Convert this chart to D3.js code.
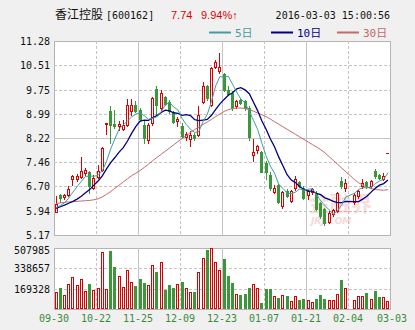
<!DOCTYPE html>
<html>
<head>
<meta charset="utf-8">
<script src="https://cdn.jsdelivr.net/npm/d3@7"></script>
<style>
html,body{margin:0;padding:0;background:#f0f0f0;}
svg{display:block;}
</style>
</head>
<body>
<svg id="chart" width="415" height="330"></svg>
<script>
// Daily K-line for 香江控股 600162 (index 70 is a suspended day: no trade)
const open = [5.90,6.43,6.37,6.42,6.92,6.94,6.99,7.13,7.15,6.65,7.00,7.23,8.66,9.08,8.67,8.59,8.51,8.64,9.06,9.27,
  9.10,8.64,8.17,8.70,9.76,9.17,9.51,9.35,9.03,8.75,8.61,8.26,8.19,8.33,8.33,9.35,9.85,9.27,10.47,10.35,
  10.25,9.74,9.64,9.24,9.43,9.38,9.17,7.70,7.84,7.77,7.44,7.07,6.52,6.75,6.08,6.55,6.24,6.65,6.83,6.65,
  6.42,6.52,6.50,6.19,5.98,5.58,5.82,5.92,6.86,6.66,null,6.20,6.39,6.71,6.83,6.71,7.18,7.07,6.92,7.74];
const high = [6.41,6.45,6.47,6.71,7.07,7.09,7.63,7.28,7.17,7.05,7.36,7.93,8.71,9.22,9.11,8.75,8.80,9.46,9.45,9.38,
  9.16,8.80,8.70,9.53,9.87,9.74,9.55,9.43,9.06,8.90,8.70,8.40,8.43,8.38,9.22,10.00,9.90,10.47,10.69,10.91,
  10.28,9.85,9.69,9.43,9.45,9.43,9.22,8.19,8.01,7.80,7.49,7.15,6.76,6.78,6.55,6.62,6.60,7.02,6.88,6.70,
  6.60,6.66,6.55,6.22,6.03,5.92,6.00,6.52,6.99,6.92,null,6.50,6.60,6.92,6.86,6.90,7.24,7.10,7.12,7.74];
const low = [5.88,6.21,6.30,6.40,6.76,6.87,6.96,7.07,6.48,6.63,6.97,7.18,8.36,8.07,8.54,8.49,8.47,8.59,8.96,9.03,
  8.76,8.07,8.07,8.64,8.96,9.12,9.27,9.01,8.70,8.59,8.23,8.17,7.98,8.17,8.30,9.32,9.42,9.22,10.42,10.27,
  9.70,9.58,9.12,9.17,9.30,9.12,8.17,7.49,7.75,7.16,6.92,6.60,6.50,6.19,6.03,6.37,6.20,6.60,6.68,6.30,
  6.30,6.45,5.95,5.70,5.50,5.55,5.78,5.88,6.66,6.55,null,6.16,6.35,6.66,6.66,6.66,6.97,6.92,6.90,7.74];
const close = [6.16,6.34,6.43,6.63,7.02,7.02,7.18,7.21,6.71,6.97,7.18,7.90,8.69,8.64,8.61,8.66,8.62,9.27,9.27,9.09,
  8.82,8.22,8.64,9.48,9.27,9.64,9.30,9.06,8.72,8.82,8.28,8.35,8.33,8.22,8.96,9.85,9.47,10.42,10.63,10.45,
  9.75,9.62,9.17,9.38,9.32,9.17,8.25,7.77,7.96,7.16,7.15,6.66,6.66,6.22,6.52,6.39,6.55,6.92,6.71,6.34,
  6.55,6.62,5.98,5.77,5.56,5.87,5.96,6.50,6.71,6.81,null,6.44,6.55,6.81,6.71,6.86,7.02,6.97,7.04,7.74];
const volume = [140000,178000,118000,207000,266000,198000,249000,150000,208000,160000,
  173000,475000,165000,480000,350000,274000,183000,326000,224000,193000,
  252000,218000,200000,367000,311000,392000,161000,201000,176000,207000,
  226000,175000,141000,141000,308000,427000,495000,507985,391000,327000,
  420000,271000,217000,125000,119000,125000,178000,208000,175000,49000,
  164000,164000,107000,90000,116000,109000,70000,106000,78000,84000,
  75000,60000,84000,117000,84000,75000,75000,126000,243000,176000,
  null,75000,109000,109000,134000,84000,151000,100000,100000,67000];

// Moving averages as plotted
const ma5 = [6.03,6.10,6.18,6.33,6.52,6.69,6.86,7.01,7.03,7.02,7.05,7.19,7.49,7.88,8.20,8.50,8.64,8.76,8.89,8.98,
  9.01,8.93,8.81,8.85,8.89,9.05,9.27,9.35,9.20,9.11,8.84,8.65,8.50,8.40,8.43,8.74,8.97,9.38,9.87,10.16,
  10.14,10.17,9.92,9.67,9.45,9.33,9.06,8.78,8.49,8.06,7.66,7.34,7.12,6.77,6.64,6.49,6.47,6.52,6.62,6.58,
  6.61,6.63,6.44,6.25,6.10,5.96,5.83,5.93,6.12,6.37,null,6.48,6.60,6.66,6.66,6.67,6.79,6.87,6.92,7.13];
const ma10 = [6.01,6.06,6.11,6.17,6.23,6.30,6.39,6.50,6.60,6.74,6.87,7.03,7.25,7.45,7.61,7.78,7.92,8.13,8.38,8.59,
  8.76,8.79,8.78,8.87,8.93,9.03,9.10,9.08,9.02,9.00,8.94,8.96,8.93,8.80,8.77,8.79,8.81,8.94,9.13,9.30,
  9.44,9.57,9.65,9.77,9.81,9.74,9.62,9.35,9.08,8.76,8.50,8.20,7.95,7.63,7.35,7.07,6.90,6.82,6.69,6.61,
  6.55,6.55,6.48,6.44,6.34,6.29,6.23,6.19,6.19,6.23,null,6.22,6.22,6.30,6.39,6.52,6.64,6.74,6.79,6.90];
const ma30 = [6.16,6.18,6.20,6.21,6.22,6.23,6.24,6.25,6.26,6.28,6.31,6.37,6.45,6.54,6.64,6.74,6.84,6.94,7.04,7.12,
  7.20,7.30,7.40,7.51,7.61,7.71,7.81,7.91,8.01,8.11,8.21,8.30,8.40,8.49,8.57,8.65,8.73,8.81,8.90,8.98,
  9.06,9.12,9.15,9.17,9.17,9.15,9.12,9.07,9.01,8.96,8.90,8.82,8.74,8.66,8.58,8.50,8.42,8.34,8.26,8.18,
  8.10,8.02,7.94,7.86,7.76,7.64,7.52,7.40,7.28,7.16,null,6.92,6.82,6.74,6.68,6.63,6.60,6.59,6.58,6.60];

const priceTicks = [11.28,10.51,9.75,8.99,8.22,7.46,6.70,5.94,5.17];
const priceLabels = ["11.28","10.51","9.75","8.99","8.22","7.46","6.70","5.94","5.17"];
const volumeTicks = [507985,338657,169328];
const dateLabels = ["09-30","10-22","11-25","12-09","12-23","01-07","01-21","02-04","03-03"];
const dateIndex = [0,10,20,30,40,50,60,70,80];

const stockName = "香江控股";
const stockCode = "[600162]";
const lastPrice = "7.74";
const lastChange = "9.94%↑";
const quoteTime = "2016-03-03 15:00:56";
const maNames = ["5日","10日","30日"];

const RED = "#dd0000", GREEN = "#3a983a";
const MA_COLORS = ["#3f9f9f","#000080","#c46a6a"];
const GRID = "#c4c4c4";
const NUM_FONT = "'DejaVu Sans Mono', monospace";

const svg = d3.select("#chart");
const P = {l:54, r:390, t:41, b:235};
const V = {t:248, b:309};
const n = open.length;

const x = d3.scaleBand().domain(d3.range(n)).range([P.l, P.r]);
const cx = i => x(i) + x.bandwidth() / 2;
const edge = i => i < n ? x(i) : P.r;
const y = d3.scaleLinear().domain([priceTicks[priceTicks.length - 1], priceTicks[0]]).range([P.b, P.t]);
const yv = d3.scaleLinear().domain([0, volumeTicks[0]]).range([V.b, V.t]);
const crisp = v => Math.round(v) + 0.5;

// panels
function panel(top, bottom) {
  svg.append("rect").attr("x", P.l + 0.5).attr("y", top + 0.5)
    .attr("width", P.r - P.l).attr("height", bottom - top)
    .attr("fill", "#fff").attr("stroke", "#b4b4b4");
}
panel(P.t, P.b);
panel(V.t, V.b);

// grid: every other line solid, others dashed
const gridG = svg.append("g");
dateIndex.slice(1, -1).forEach((d, k) => {
  const xx = crisp(edge(d));
  [[P.t, P.b], [V.t, V.b]].forEach(([a, b]) => {
    gridG.append("line").attr("x1", xx).attr("x2", xx).attr("y1", a).attr("y2", b)
      .attr("stroke", GRID).attr("stroke-dasharray", k % 2 === 1 ? null : "3,2");
  });
});
priceTicks.slice(1, -1).forEach((v, k) => {
  const yy = crisp(y(v));
  gridG.append("line").attr("x1", P.l).attr("x2", P.r).attr("y1", yy).attr("y2", yy)
    .attr("stroke", GRID).attr("stroke-dasharray", k === 3 ? null : "3,2");
});
volumeTicks.slice(1).forEach(v => {
  const yy = crisp(yv(v));
  gridG.append("line").attr("x1", P.l).attr("x2", P.r).attr("y1", yy).attr("y2", yy)
    .attr("stroke", GRID).attr("stroke-dasharray", "3,2");
});

// watermark
const wm = svg.append("g").attr("opacity", 0.35);
wm.append("text").attr("x", 309).attr("y", 211).attr("font-family", "'Noto Sans CJK SC'")
  .attr("font-size", 21).attr("font-weight", "bold").attr("fill", "#e9a0a0").text("金融界");
wm.append("text").attr("x", 311).attr("y", 224).attr("font-family", "'DejaVu Sans'")
  .attr("font-size", 9).attr("font-style", "italic").attr("font-weight", "bold")
  .attr("fill", "#e29090").text("JRJ.COM");

// candles
const candleG = svg.append("g");
d3.range(n).filter(i => open[i] !== null).forEach(i => {
  const o = open[i], c = close[i], up = c >= o;
  const col = up ? RED : GREEN;
  const bx = Math.round(cx(i) - 1.5);
  const wx = bx + 1.5;
  const yt = Math.round(y(Math.max(o, c))), yb = Math.round(y(Math.min(o, c)));
  const yh = Math.round(y(high[i])), yl = Math.round(y(low[i]));
  if (yb - yt < 1) {
    candleG.append("line").attr("x1", wx).attr("x2", wx).attr("y1", yh).attr("y2", yl + 1).attr("stroke", col);
    candleG.append("line").attr("x1", bx).attr("x2", bx + 3).attr("y1", yt + 0.5).attr("y2", yt + 0.5).attr("stroke", col);
    return;
  }
  if (up) {
    candleG.append("line").attr("x1", wx).attr("x2", wx).attr("y1", yh).attr("y2", yt).attr("stroke", col);
    candleG.append("line").attr("x1", wx).attr("x2", wx).attr("y1", yb).attr("y2", yl + 1).attr("stroke", col);
    candleG.append("rect").attr("x", bx + 0.5).attr("y", yt + 0.5).attr("width", 2).attr("height", yb - yt)
      .attr("fill", "#fff").attr("stroke", col);
  } else {
    candleG.append("line").attr("x1", wx).attr("x2", wx).attr("y1", yh).attr("y2", yl + 1).attr("stroke", col);
    candleG.append("rect").attr("x", bx).attr("y", yt).attr("width", 3).attr("height", yb - yt + 1).attr("fill", col);
  }
});

// volume bars
const volG = svg.append("g");
d3.range(n).filter(i => volume[i] !== null).forEach(i => {
  const up = close[i] >= open[i];
  const bx = Math.round(cx(i) - 1.5);
  const yt = Math.round(yv(volume[i]));
  if (up) {
    volG.append("rect").attr("x", bx + 0.5).attr("y", yt + 0.5).attr("width", 2).attr("height", V.b - yt - 1)
      .attr("fill", "#fff").attr("stroke", RED);
  } else {
    volG.append("rect").attr("x", bx).attr("y", yt).attr("width", 3).attr("height", V.b - yt).attr("fill", GREEN);
  }
});

// moving average lines
const lineGen = d3.line().x(d => cx(d[0])).y(d => y(d[1]));
[ma30, ma10, ma5].forEach((arr, k) => {
  const pts = arr.map((v, i) => [i, v]).filter(d => d[1] !== null);
  svg.append("path").attr("d", lineGen(pts)).attr("fill", "none")
    .attr("stroke", MA_COLORS[2 - k]).attr("stroke-width", k === 1 ? 1.3 : 1);
});

// axes labels
const labG = svg.append("g").attr("font-family", NUM_FONT).attr("font-size", 10);
priceTicks.forEach((v, k) => {
  labG.append("text").attr("x", 50).attr("y", y(v) + 4).attr("text-anchor", "end")
    .attr("fill", "#111").text(priceLabels[k]);
});
volumeTicks.forEach(v => {
  labG.append("text").attr("x", 50).attr("y", Math.max(yv(v), V.t + 2) + 4).attr("text-anchor", "end")
    .attr("fill", "#111").text(v);
});
dateIndex.forEach((d, k) => {
  labG.append("text").attr("x", edge(d) + (k === dateIndex.length - 1 ? 2 : 0)).attr("y", 322)
    .attr("text-anchor", "middle").attr("fill", "#3a8a3a").text(dateLabels[k]);
});

// header
const head = svg.append("g");
head.append("text").attr("x", 55).attr("y", 19).attr("font-family", "'Noto Sans CJK SC'")
  .attr("font-size", 12).attr("fill", "#111").text(stockName);
head.append("text").attr("x", 106).attr("y", 19).attr("font-family", NUM_FONT)
  .attr("font-size", 10).attr("fill", "#111").text(stockCode);
head.append("text").attr("x", 171).attr("y", 19).attr("font-family", "'Liberation Sans'")
  .attr("font-size", 11).attr("fill", RED).text(lastPrice);
head.append("text").attr("x", 201).attr("y", 19).attr("font-family", "'Liberation Sans'")
  .attr("font-size", 11).attr("fill", RED).text(lastChange);
head.append("text").attr("x", 390).attr("y", 19).attr("text-anchor", "end").attr("font-family", NUM_FONT)
  .attr("font-size", 10).attr("fill", "#111").text(quoteTime);

// legend
const legX = [209, 271, 337];
maNames.forEach((name, k) => {
  head.append("line").attr("x1", legX[k]).attr("x2", legX[k] + 22).attr("y1", 32.5).attr("y2", 32.5)
    .attr("stroke", MA_COLORS[k]).attr("stroke-width", 2);
  head.append("text").attr("x", legX[k] + 26).attr("y", 37).attr("font-family", "'DejaVu Sans Mono','Noto Sans CJK SC'")
    .attr("font-size", 11).attr("fill", MA_COLORS[k]).text(name);
});
</script>
</body>
</html>
